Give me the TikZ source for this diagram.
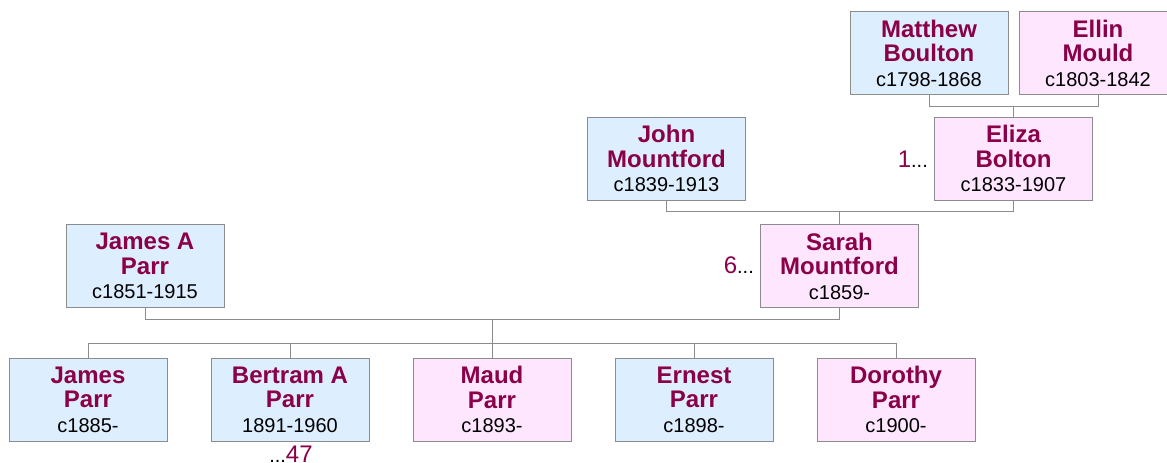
\documentclass[tikz,border=0pt]{standalone}
\usepackage{fontspec}
\setmainfont{Liberation Sans}
\usetikzlibrary{calc}
\definecolor{nm}{HTML}{8A0049}
\definecolor{mfill}{HTML}{DDEEFF}
\definecolor{ffill}{HTML}{FFE6FF}
\definecolor{edge}{HTML}{8C8C8C}
\newcommand{\nmtxt}[1]{{\fontsize{24}{24.5}\selectfont\bfseries\color{nm}#1}}
\newcommand{\dttxt}[1]{{\fontsize{20}{24}\selectfont #1}}
\newcommand{\numtxt}[1]{{\fontsize{24}{24}\selectfont\color{nm}#1}}
\tikzset{
  person/.style={draw=edge, line width=1pt, minimum width=158pt, minimum height=83pt,
    inner sep=0pt, align=center, font=\fontsize{20}{24.5}\selectfont},
  male/.style={person, fill=mfill},
  female/.style={person, fill=ffill},
  conn/.style={draw=edge, line width=1pt},
  lbl/.style={inner sep=0pt, font=\fontsize{20}{22}\selectfont}
}
\begin{document}
\begin{tikzpicture}[x=1pt,y=-1pt]
\clip (0,0) rectangle (1167,463);
\fill[white] (0,0) rectangle (1167,463);
% generation 0
\node[male]   (mb) at (929,53)    {\nmtxt{Matthew}\\\nmtxt{Boulton}\\\dttxt{c1798-1868}};
\node[female] (em) at (1098,53)   {\nmtxt{Ellin}\\\nmtxt{Mould}\\\dttxt{c1803-1842}};
% generation 1
\node[male]   (jm) at (666.5,158.5) {\nmtxt{John}\\\nmtxt{Mountford}\\\dttxt{c1839-1913}};
\node[female] (eb) at (1013.5,158.5) {\nmtxt{Eliza}\\\nmtxt{Bolton}\\\dttxt{c1833-1907}};
% generation 2
\node[male]   (jp) at (145,266)   {\nmtxt{James A}\\\nmtxt{Parr}\\\dttxt{c1851-1915}};
\node[female] (sm) at (839.5,266) {\nmtxt{Sarah}\\\nmtxt{Mountford}\\\dttxt{c1859-}};
% children
\node[male]   (c1) at (88,399.5)  {\nmtxt{James}\\\nmtxt{Parr}\\\dttxt{c1885-}};
\node[male]   (c2) at (290,399.5) {\nmtxt{Bertram A}\\\nmtxt{Parr}\\\dttxt{1891-1960}};
\node[female] (c3) at (492,399.5) {\nmtxt{Maud}\\\nmtxt{Parr}\\\dttxt{c1893-}};
\node[male]   (c4) at (694,399.5) {\nmtxt{Ernest}\\\nmtxt{Parr}\\\dttxt{c1898-}};
\node[female] (c5) at (896,399.5) {\nmtxt{Dorothy}\\\nmtxt{Parr}\\\dttxt{c1900-}};
% labels
\node[lbl, anchor=base east] (l1) at ($(eb.west)+(-6,9)$) {\numtxt{1}...};
\node[lbl, anchor=base east] (l6) at ($(sm.west)+(-6,7)$) {\numtxt{6}...};
\node[lbl, anchor=base] (l47) at (291,462) {...\numtxt{47}};
% connectors
\draw[conn] (mb.south) -- ++(0,11) coordinate (a0) -| (em.south);
\draw[conn] (a0 -| eb.north) -- (eb.north);
\draw[conn] (jm.south) -- ++(0,11) coordinate (a1) -| (eb.south);
\draw[conn] (a1 -| sm.north) -- (sm.north);
\draw[conn] (jp.south) -- ++(0,11) coordinate (a2) -| (sm.south);
\coordinate (mid) at ($(a2)!0.5!(a2 -| sm.south)$);
\draw[conn] (c1.north) -- ++(0,-14) coordinate (bar) -| (c5.north);
\draw[conn] (mid) -- (mid |- bar);
\draw[conn] (c2.north) -- (c2.north |- bar);
\draw[conn] (c3.north) -- (c3.north |- bar);
\draw[conn] (c4.north) -- (c4.north |- bar);
\end{tikzpicture}
\end{document}
